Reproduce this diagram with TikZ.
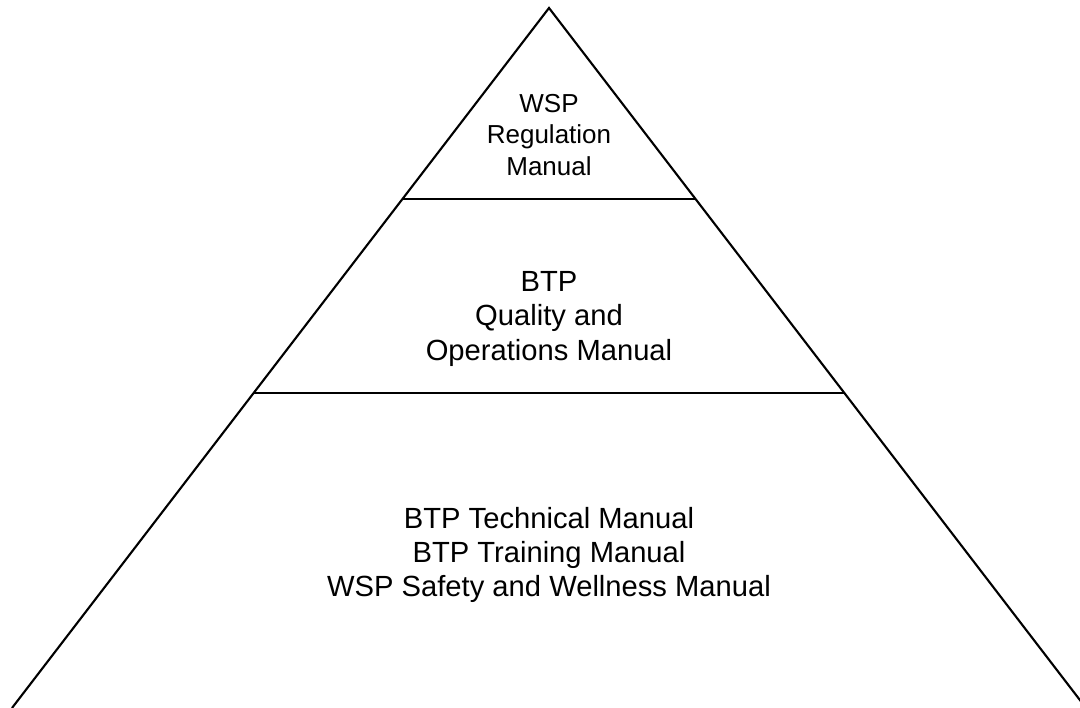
\documentclass[tikz,border=0pt]{standalone}
\usepackage{fontspec}
\setmainfont{Liberation Sans}
\usetikzlibrary{calc}

\begin{document}
\begin{tikzpicture}[
        edge/.style={draw, line width=0.6pt},
        tiertext/.style={align=center, inner sep=0pt},
        small/.style={font=\fontsize{7.4pt}{8.9pt}\selectfont},
        large/.style={font=\fontsize{8.3pt}{9.7pt}\selectfont}
    ]
        \useasboundingbox (0,0) rectangle (10.8,7.08);

        % Pyramid corners
        \coordinate (apex) at (5.49, 7.00);
        \coordinate (bl) at (0.12, 0);
        \coordinate (br) at (10.86, 0);
        \draw[edge] (bl) -- (apex) -- (br);

        % Tier borders
        \coordinate (l1) at ($(apex)!0.2729!(bl)$);
        \coordinate (r1) at ($(apex)!0.2729!(br)$);
        \coordinate (l2) at ($(apex)!0.55!(bl)$);
        \coordinate (r2) at ($(apex)!0.55!(br)$);
        \draw[edge] (l1) -- (r1);
        \draw[edge] (l2) -- (r2);

        % Tier labels
        \node[tiertext, small] (top) at (5.49, 5.73) {WSP\\Regulation\\Manual};
        \node[tiertext, large] (mid) at (5.49, 3.89) {BTP\\Quality and\\Operations Manual};
        \node[tiertext, large] (base) at (5.49, 1.53) {BTP Technical Manual\\BTP Training Manual\\WSP Safety and Wellness Manual};
    \end{tikzpicture}
\end{document}
